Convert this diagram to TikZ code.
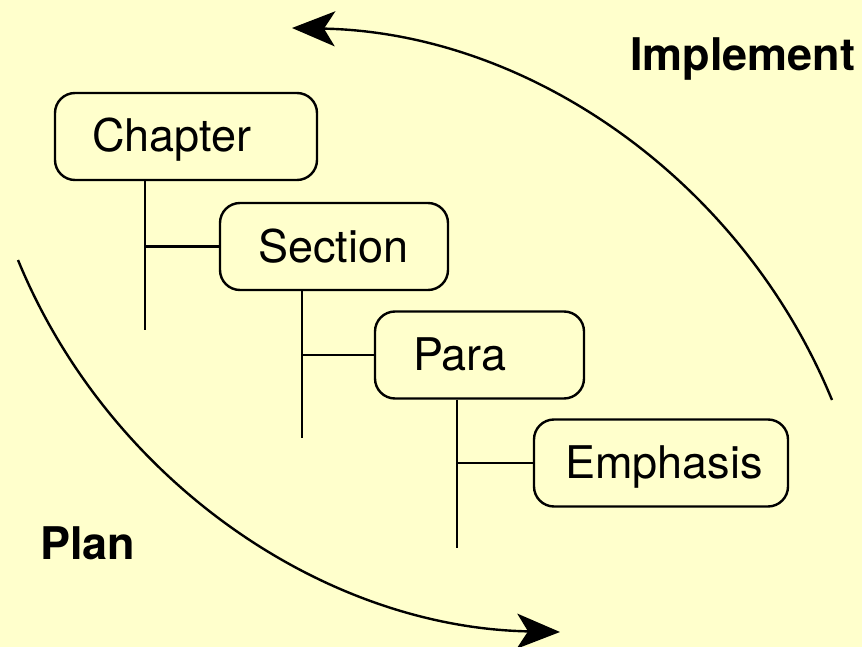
\documentclass[tikz,border=0pt]{standalone}
\usepackage{fontspec}
\setmainfont{TeX Gyre Heros}
\usetikzlibrary{arrows.meta}
\definecolor{bg}{HTML}{FFFFCC}
\begin{document}
\begin{tikzpicture}[x=1pt,y=-1pt,
  box/.style={draw, line width=2.4pt, rounded corners=20pt, fill=bg,
    minimum height=87pt, align=left, text height=31pt, text depth=0pt,
    inner ysep=0pt, font=\fontsize{45}{54}\selectfont},
  tree/.style={line width=2.4pt},
  cycle/.style={line width=2.4pt, -{Stealth[length=43pt,width=35pt,inset=11pt]}},
  phase/.style={font=\fontsize{45}{54}\selectfont\bfseries, inner sep=0pt}]
\fill[bg] (0,0) rectangle (862,647);
\useasboundingbox (0,0) rectangle (862,647);

\node[box, text width=188pt, inner xsep=37pt] (ch) at (186,136.5) {Chapter};
\node[box, text width=152pt, inner xsep=38pt] (sec) at (334,246.5) {Section};
\node[box, text width=133pt, inner xsep=38pt] (para) at (479.5,355) {Para};
\node[box, text width=192pt, inner xsep=31pt] (emph) at (661,463) {Emphasis};

\coordinate (chend) at (145,330);
\coordinate (secend) at (302,438);
\coordinate (paraend) at (457,548);
\draw[tree] (ch.south -| chend) -- (chend);
\draw[tree] (sec.west) -- (sec.west -| chend);
\draw[tree] (sec.south -| secend) -- (secend);
\draw[tree] (para.west) -- (para.west -| secend);
\draw[tree] (para.south -| paraend) -- (paraend);
\draw[tree] (emph.west) -- (emph.west -| paraend);

\node[phase, anchor=base west] (impl) at (630,71) {Implement};
\node[phase, anchor=base west] (plan) at (40,559) {Plan};

\coordinate (ustart) at (832,400);
\coordinate (utip) at (292,28);
\coordinate (lstart) at (18,260);
\coordinate (ltip) at (560,632);
\draw[cycle] (ustart) .. controls (741.9,180.5) and (529.3,32.6) .. (utip);
\draw[cycle] (lstart) .. controls (108.1,479.5) and (322.7,627.4) .. (ltip);
\end{tikzpicture}
\end{document}
